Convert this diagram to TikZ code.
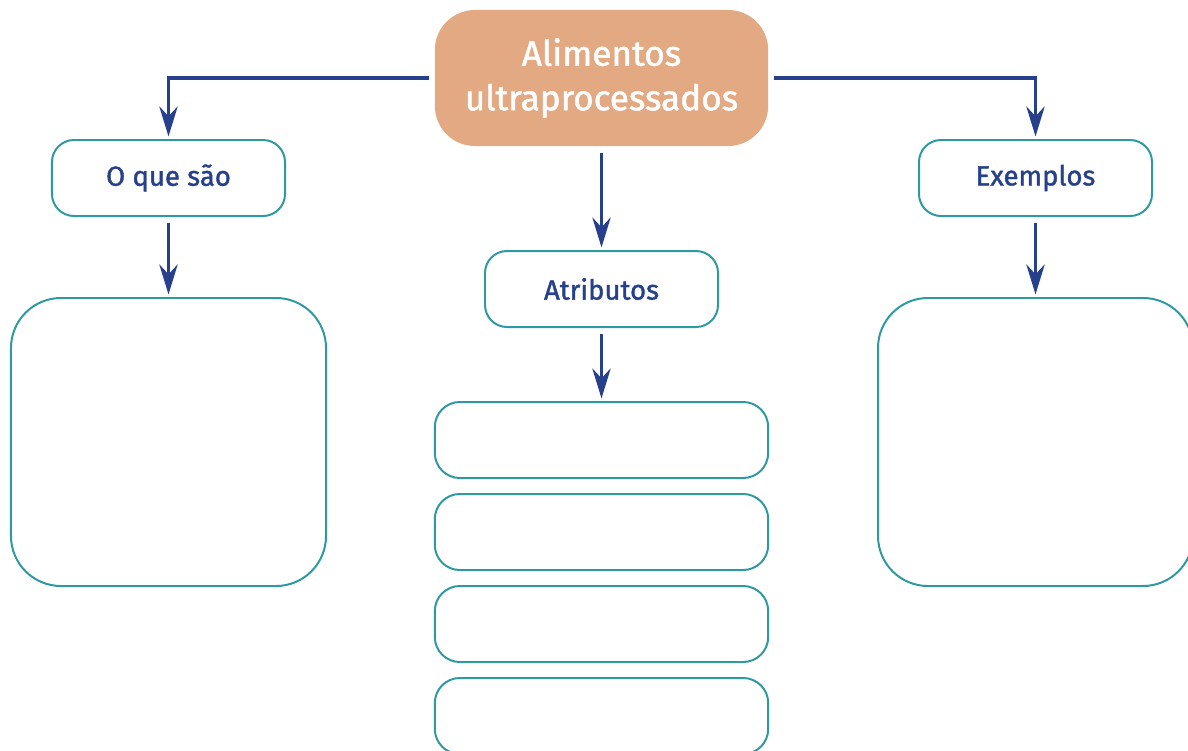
\documentclass[tikz,border=0pt]{standalone}
\usepackage{fontspec}
\setmainfont{Fira Sans}
\newfontfamily\boxfont{Fira Sans}[FakeBold=1.4]
\usetikzlibrary{arrows.meta,positioning}

\definecolor{peach}{HTML}{E3A983}
\definecolor{tealline}{HTML}{2E9AA0}
\definecolor{navy}{HTML}{26408B}

\tikzset{
  mainbox/.style={fill=peach, rounded corners=1.2cm, minimum width=10cm, minimum height=4.08cm,
    inner sep=0pt, outer sep=0pt, text=white, align=center, font=\boxfont\fontsize{30}{38}\selectfont},
  labelbox/.style={draw=tealline, line width=1.7pt, fill=white, rounded corners=0.66cm,
    minimum width=6.99cm, minimum height=2.28cm, inner sep=0pt, outer sep=0pt,
    text=navy, font=\boxfont\fontsize{23.5}{28}\selectfont},
  bigbox/.style={draw=tealline, line width=1.7pt, rounded corners=1.5cm,
    minimum width=9.45cm, minimum height=8.64cm, inner sep=0pt, outer sep=0pt},
  slotbox/.style={draw=tealline, line width=1.7pt, rounded corners=0.75cm,
    minimum width=10cm, minimum height=2.28cm, inner sep=0pt, outer sep=0pt},
  conn/.style={draw=navy, line width=2.6pt, -{Stealth[length=0.9cm,width=0.55cm]}},
}

\begin{document}
\begin{tikzpicture}[x=0.03cm,y=-0.03cm]
\useasboundingbox (0,0) rectangle (1188,750);

% top
\node[mainbox] (topic) at (601.5,78) {Alimentos\\ultraprocessados};

% three headers
\node[labelbox] (oque) at (168.5,178) {O que são};
\node[labelbox] (attr) at (601.5,289) {Atributos};
\node[labelbox] (ex) at (1035.5,178) {Exemplos};

% answer boxes
\node[bigbox] (oquebody) at (168.5,442) {};
\node[bigbox] (exbody) at (1035.5,442) {};
\node[slotbox] (slota) at (601.5,440) {};
\node[slotbox] (slotb) at (601.5,532) {};
\node[slotbox] (slotc) at (601.5,624) {};
\node[slotbox] (slotd) at (601.5,716) {};

% arrows
\draw[conn, shorten <=5pt, shorten >=3pt] (topic.west) -| (oque.north);
\draw[conn, shorten <=5pt, shorten >=3pt] (topic.east) -| (ex.north);
\draw[conn, shorten <=6pt, shorten >=3pt] (topic.south) -- (attr.north);
\draw[conn, shorten <=6pt, shorten >=3pt] (oque.south) -- (oquebody.north);
\draw[conn, shorten <=6pt, shorten >=3pt] (ex.south) -- (exbody.north);
\draw[conn, shorten <=6pt, shorten >=3pt] (attr.south) -- (slota.north);

\end{tikzpicture}
\end{document}
